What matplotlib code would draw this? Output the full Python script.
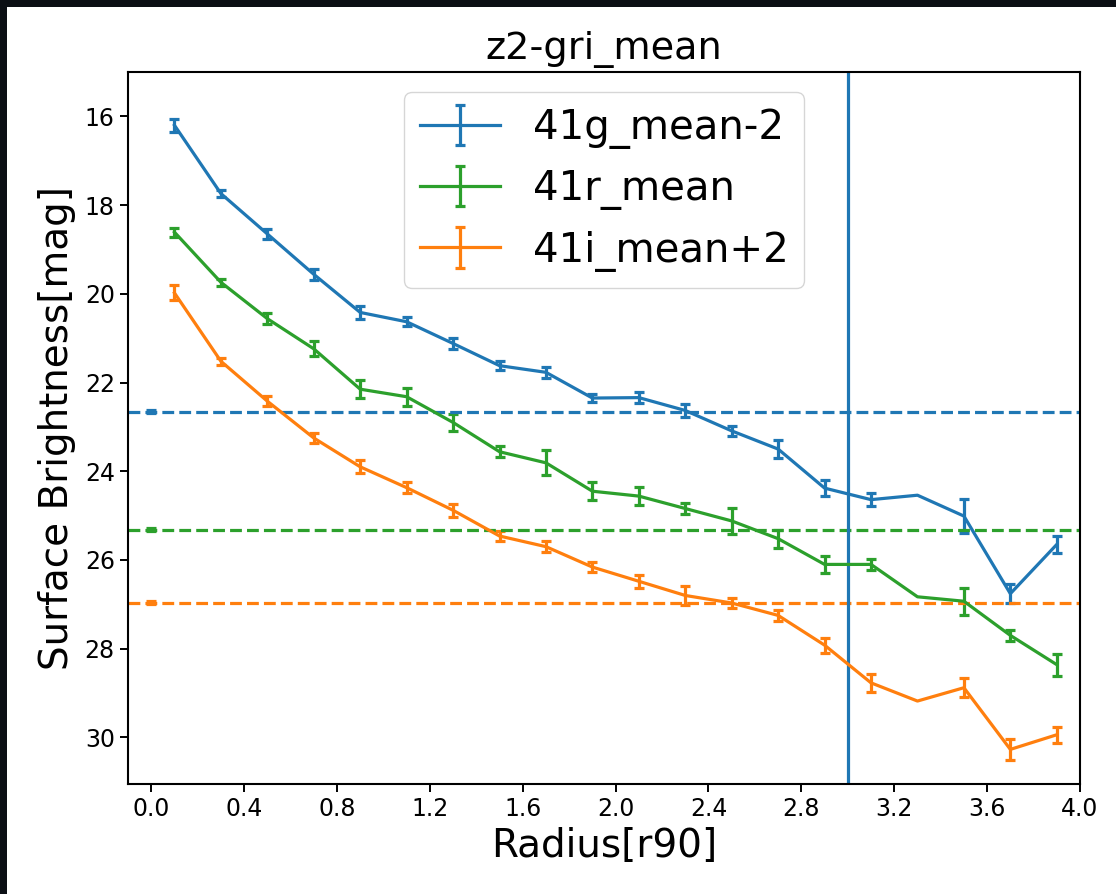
import numpy as np
import matplotlib
matplotlib.use("Agg")
import matplotlib.pyplot as plt
from matplotlib.patches import Rectangle

radius = [0.1, 0.3, 0.5, 0.7, 0.9, 1.1, 1.3, 1.5, 1.7, 1.9,
          2.1, 2.3, 2.5, 2.7, 2.9, 3.1, 3.3, 3.5, 3.7, 3.9]

g_mag = [16.20, 17.74, 18.65, 19.56, 20.42, 20.63, 21.12, 21.62, 21.77, 22.35,
         22.34, 22.63, 23.09, 23.50, 24.38, 24.64, 24.54, 25.01, 26.76, 25.65]
g_err = [0.15, 0.07, 0.12, 0.12, 0.15, 0.10, 0.12, 0.10, 0.12, 0.10,
         0.12, 0.15, 0.12, 0.20, 0.18, 0.15, np.nan, 0.38, 0.22, 0.20]

r_mag = [18.61, 19.74, 20.56, 21.24, 22.15, 22.32, 22.90, 23.56, 23.81, 24.45,
         24.56, 24.84, 25.12, 25.52, 26.10, 26.10, 26.83, 26.93, 27.70, 28.36]
r_err = [0.10, 0.08, 0.12, 0.17, 0.20, 0.20, 0.20, 0.12, 0.28, 0.20,
         0.20, 0.12, 0.30, 0.20, 0.20, 0.12, np.nan, 0.30, 0.12, 0.25]

i_mag = [19.98, 21.52, 22.42, 23.25, 23.90, 24.37, 24.88, 25.46, 25.70, 26.16,
         26.48, 26.80, 26.97, 27.25, 27.92, 28.77, 29.18, 28.88, 30.27, 29.94]
i_err = [0.17, 0.08, 0.12, 0.12, 0.15, 0.12, 0.15, 0.12, 0.12, 0.12,
         0.15, 0.22, 0.12, 0.12, 0.17, 0.20, np.nan, 0.22, 0.24, 0.18]

bg_levels = [22.66, 25.32, 26.96]
bg_err = [0.03, 0.03, 0.03]
labels = ["41g_mean-2", "41r_mean", "41i_mean+2"]
colors = ["#1f77b4", "#2ca02c", "#ff7f0e"]
r_cut = 3.0

W, H, DPI = 1116, 894, 100
fig = plt.figure(figsize=(W / DPI, H / DPI), dpi=DPI)
fig.patch.set_facecolor("#0b0f14")
fig.patches.append(Rectangle((7 / W, 0), 1 - 7 / W, 1 - 7 / H,
                             transform=fig.transFigure, facecolor="white",
                             edgecolor="none", zorder=-10))

ax = fig.add_axes([128 / W, 1 - 784 / H, (1080 - 128) / W, (784 - 72) / H])

lw = 2.3
series = [(g_mag, g_err), (r_mag, r_err), (i_mag, i_err)]
for (m, e), lab, c in zip(series, labels, colors):
    ax.errorbar(radius, m, yerr=e, color=c, lw=lw, elinewidth=lw,
                capsize=3.6, capthick=lw, label=lab)

for lvl, e, c in zip(bg_levels, bg_err, colors):
    ax.axhline(lvl, color=c, lw=lw, ls="--")
    ax.errorbar([0.0], [lvl], yerr=[e], color=c, lw=lw, elinewidth=lw,
                capsize=3.6, capthick=lw)

ax.axvline(r_cut, color=colors[0], lw=lw)

ax.set_xlim(-0.1, 4.0)
ax.set_ylim(31.05, 15.0)
ax.set_xticks(np.round(np.arange(0, 4.01, 0.4), 1))
ax.set_yticks([16, 18, 20, 22, 24, 26, 28, 30])
ax.tick_params(labelsize=17, length=6, width=1.4)
for s in ax.spines.values():
    s.set_linewidth(1.5)

ax.set_title("z2-gri_mean", fontsize=27.5, pad=9)
ax.set_xlabel("Radius[r90]", fontsize=28, labelpad=4)
ax.set_ylabel("Surface Brightness[mag]", fontsize=28, labelpad=6)
leg = ax.legend(loc="upper center", fontsize=29, handlelength=2.0)

fig.savefig("out.png", dpi=DPI, facecolor=fig.get_facecolor())
